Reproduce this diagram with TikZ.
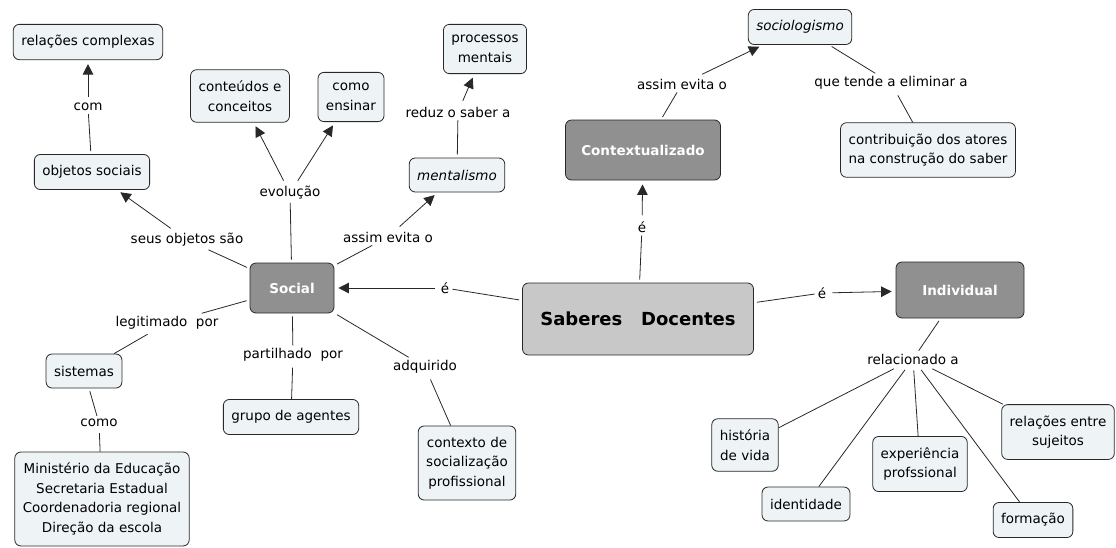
\documentclass[tikz,border=0pt]{standalone}
\usepackage{fontspec}
\setmainfont{DejaVu Sans}
\usetikzlibrary{arrows.meta,positioning}
\definecolor{ink}{RGB}{40,40,40}
\definecolor{pale}{RGB}{238,244,246}
\definecolor{slate}{RGB}{144,144,144}
\definecolor{silver}{RGB}{200,200,200}

\begin{document}
\begin{tikzpicture}[x=1pt,y=-1pt,concept/.style={draw=ink,line width=.8pt,rounded corners=6pt,fill=pale,align=center,inner xsep=8pt,inner ysep=11pt,minimum height=34pt,font=\fontsize{13.5}{19.5}\selectfont},core/.style={concept,fill=slate,text=white,font=\fontsize{13.5}{19.5}\selectfont\bfseries},phrase/.style={inner sep=3pt,font=\fontsize{13.5}{19.5}\selectfont},link/.style={draw=ink,line width=.8pt,shorten <=3pt},arrow/.style={link,-{Triangle[length=10.5pt,width=10.5pt]},shorten >=4pt}]
\useasboundingbox (0,0) rectangle (1116,547);
% main concepts
\node[concept,fill=silver,font=\fontsize{18}{22}\selectfont\bfseries,minimum width=231pt,minimum height=72pt] (saberes) at (638,319) {Saberes\ \ \ Docentes};
\node[core,minimum width=84pt,minimum height=50pt] (social) at (292,288) {Social};
\node[core,minimum width=155pt,minimum height=60pt] (context) at (643,150) {Contextualizado};
\node[core,minimum width=128pt,minimum height=56pt] (indiv) at (960,290) {Individual};
% concepts
\node[concept] (relcomp) at (88,42) {relações complexas};
\node[concept] (conteudos) at (240,96) {conteúdos e\\conceitos};
\node[concept] (ensinar) at (351,97) {como\\ensinar};
\node[concept] (objetos) at (92,172) {objetos sociais};
\node[concept] (processos) at (485,49) {processos\\mentais};
\node[concept] (mental) at (457,175) {\itshape mentalismo};
\node[concept] (socio) at (800,27) {\itshape sociologismo};
\node[concept] (contrib) at (928,150) {contribuição dos atores\\na construção do saber};
\node[concept] (sistemas) at (84,371) {sistemas};
\node[concept] (orgaos) at (102,499) {Ministério da Educação\\Secretaria Estadual\\Coordenadoria regional\\Direção da escola};
\node[concept] (grupo) at (291,417) {grupo de agentes};
\node[concept] (contexto) at (467,463) {contexto de\\socialização\\profissional};
\node[concept] (historia) at (745,445) {história\\de vida};
\node[concept] (ident) at (806,504) {identidade};
\node[concept] (exper) at (920,464) {experiência\\profssional};
\node[concept] (relsuj) at (1058,432) {relações entre\\sujeitos};
\node[concept] (formacao) at (1033,520) {formação};
% linking phrases
\node[phrase] (lcom) at (88,107) {com};
\node[phrase] (levol) at (290,193) {evolução};
\node[phrase] (lseus) at (187,240) {seus objetos são};
\node[phrase] (levita) at (388,237) {assim evita o};
\node[phrase] (lreduz) at (458,112) {reduz o saber a};
\node[phrase] (levitb) at (682,84) {assim evita o};
\node[phrase] (ltende) at (891,83) {que tende a eliminar a};
\node[phrase] (leup) at (642,227) {é};
\node[phrase] (leleft) at (445,288) {é};
\node[phrase] (leright) at (822,293) {é};
\node[phrase] (lrelac) at (913,359) {relacionado a};
\node[phrase] (llegit) at (167,323) {legitimado\ \ por};
\node[phrase] (lcomo) at (99,423) {como};
\node[phrase] (lpart) at (293,355) {partilhado\ \ por};
\node[phrase] (ladq) at (425,367) {adquirido};
% connectors
\draw[link] (objetos)--(lcom);\draw[arrow] (lcom)--(relcomp);
\draw[link] (social)--(levol);\draw[arrow] (levol)--(conteudos);\draw[arrow] (levol)--(ensinar);
\draw[link] (social)--(lseus);\draw[arrow] (lseus)--(objetos);
\draw[link] (social)--(levita);\draw[arrow] (levita)--(mental);
\draw[link] (mental)--(lreduz);\draw[arrow] (lreduz)--(processos);
\draw[link] (saberes)--(leup);\draw[arrow] (leup)--(context);
\draw[link] (context)--(levitb);\draw[arrow] (levitb)--(socio);
\draw[link] (socio)--(ltende);\draw[link] (ltende)--(contrib);
\draw[link] (saberes)--(leleft);\draw[arrow] (leleft)--(social);
\draw[link] (saberes)--(leright);\draw[arrow] (leright)--(indiv);
\draw[link] (indiv)--(lrelac);
\foreach \t in {historia,ident,exper,formacao,relsuj} \draw[link] (lrelac)--(\t);
\draw[link] (social)--(llegit);\draw[link] (llegit)--(sistemas);
\draw[link] (sistemas)--(lcomo);\draw[link] (lcomo)--(orgaos);
\draw[link] (social)--(lpart);\draw[link] (lpart)--(grupo);
\draw[link] (social)--(ladq);\draw[link] (ladq)--(contexto);
\end{tikzpicture}
\end{document}
